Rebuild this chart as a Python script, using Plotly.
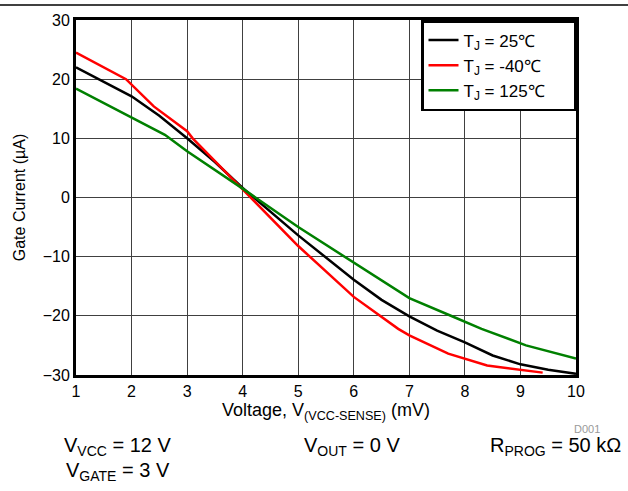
import plotly.graph_objects as go

# Data
x_25 = [1, 2, 2.5, 3, 3.5, 4, 5, 6, 6.5, 7, 7.5, 8, 8.5, 9, 9.5, 10]
y_25 = [22.0, 17.1, 13.8, 10.0, 6.0, 1.6, -6.4, -13.9, -17.3, -20.1, -22.5, -24.5, -26.7, -28.2, -29.1, -29.8]

x_m40 = [1, 1.9, 2.4, 3, 3.1, 4, 5, 6, 6.8, 7, 7.7, 8.4, 9.4]
y_m40 = [24.5, 20.0, 15.4, 11.2, 10.0, 1.3, -8.2, -16.8, -22.2, -23.3, -26.4, -28.4, -29.6]

x_125 = [1, 2, 2.6, 3, 4, 5, 6, 7, 7.8, 8.3, 9.1, 10]
y_125 = [18.4, 13.6, 10.6, 7.8, 1.5, -5.0, -11.0, -17.0, -20.2, -22.2, -25.0, -27.2]

series = [
    ("T<sub>J</sub> = 25℃", x_25, y_25, "black"),
    ("T<sub>J</sub> = -40℃", x_m40, y_m40, "#ff0000"),
    ("T<sub>J</sub> = 125℃", x_125, y_125, "#008000"),
]

x_ticks = list(range(1, 11))
y_ticks = [-30, -20, -10, 0, 10, 20, 30]

FONT = "Liberation Sans, Arial, sans-serif"
PAD = "\u00a0" * 5

fig = go.Figure()
for name, xs, ys, col in series:
    fig.add_trace(go.Scatter(x=xs, y=ys, mode="lines", name=name + PAD,
                             line=dict(color=col, width=2.5)))

axis_common = dict(showgrid=True, gridcolor="#404040", gridwidth=1,
                   showline=True, linecolor="black", linewidth=3, mirror=True,
                   zeroline=False, ticks="", tickfont=dict(size=16, color="black"))

fig.update_layout(
    width=628, height=491,
    margin=dict(l=76, r=52, t=20, b=116),
    paper_bgcolor="white", plot_bgcolor="white",
    font=dict(family=FONT, color="black", size=16),
    showlegend=True,
    legend=dict(x=1.0, y=1.0, xanchor="right", yanchor="top",
                bgcolor="white", bordercolor="black", borderwidth=2.5,
                font=dict(size=17), tracegroupgap=0, itemwidth=30),
    xaxis=dict(range=[1, 10], tickvals=x_ticks,
               title=dict(text="Voltage, V<sub>(VCC-SENSE)</sub> (mV)", font=dict(size=18), standoff=0),
               **axis_common),
    yaxis=dict(range=[-30, 30], tickvals=y_ticks,
               title=dict(text="Gate Current (µA)", font=dict(size=16), standoff=14),
               **axis_common),
)

fig.add_shape(type="line", xref="paper", yref="paper", x0=-0.152, x1=1.104, y0=1.042, y1=1.042,
              line=dict(color="black", width=1.5))

ann = [
    dict(text="V<sub>VCC</sub> = 12 V", x=-0.028, y=-0.200, xanchor="left"),
    dict(text="V<sub>GATE</sub> = 3 V", x=-0.024, y=-0.272, xanchor="left"),
    dict(text="V<sub>OUT</sub> = 0 V", x=0.452, y=-0.200, xanchor="left"),
    dict(text="R<sub>PROG</sub> = 50 kΩ", x=1.094, y=-0.200, xanchor="right"),
]
for a in ann:
    fig.add_annotation(xref="paper", yref="paper", showarrow=False, yanchor="middle",
                       font=dict(size=20, color="black"), **a)
fig.add_annotation(xref="paper", yref="paper", showarrow=False, text="D001",
                   x=1.052, y=-0.152, xanchor="right", yanchor="middle",
                   font=dict(size=11, color="#999999"))

fig.write_html("out.html", config={"displayModeBar": False},
               post_script="document.body.style.margin='0';")
